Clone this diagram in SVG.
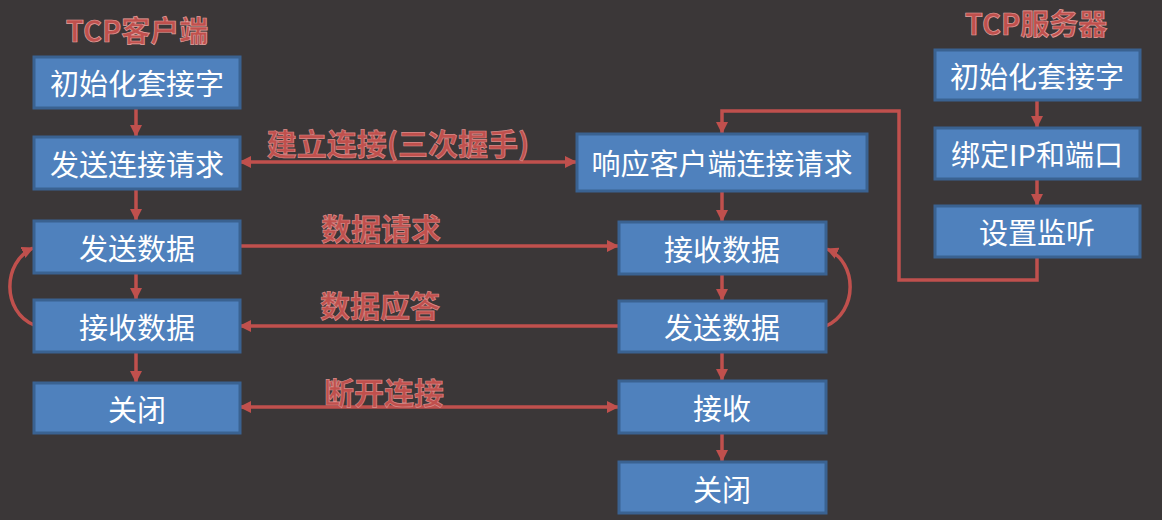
<svg xmlns="http://www.w3.org/2000/svg" width="1162" height="520" viewBox="0 0 1162 520">
<style>
.box{fill:#4f81bd;stroke:#3a6291;stroke-width:3}
.bt{font-family:"Noto Sans CJK SC","Noto Sans",sans-serif;font-size:29px;fill:#ffffff;text-anchor:middle;dominant-baseline:central}
.lbl{font-family:"Noto Sans CJK SC","Noto Sans",sans-serif;font-size:30px;font-weight:bold;fill:#c0504d;stroke:#d98a88;stroke-width:0.7;text-anchor:middle;dominant-baseline:central}
.ttl{font-family:"Noto Sans CJK SC","Noto Sans",sans-serif;font-size:29px;font-weight:bold;fill:#c0504d;stroke:#e0a09e;stroke-width:0.7;text-anchor:middle;dominant-baseline:central}
.ln{fill:none;stroke:#c0504d;stroke-width:3.5}
.a{marker-end:url(#ah)}
.aa{marker-start:url(#ah);marker-end:url(#ah)}
</style>
<defs>
<marker id="ah" markerUnits="userSpaceOnUse" markerWidth="12" markerHeight="12" refX="11" refY="6" orient="auto-start-reverse">
<path d="M0,0 L12,6 L0,12 z" fill="#c0504d"/>
</marker>
</defs>
<rect x="0" y="0" width="1162" height="520" fill="#3b3738"/>

<text class="ttl" x="137" y="29">TCP客户端</text>
<text class="ttl" x="1036" y="22">TCP服务器</text>

<g id="connectors">
<line class="ln a" x1="136" y1="108" x2="136" y2="136"/>
<line class="ln a" x1="136" y1="189" x2="136" y2="220"/>
<line class="ln a" x1="136" y1="273" x2="136" y2="299"/>
<line class="ln a" x1="136" y1="352" x2="136" y2="382"/>
<line class="ln a" x1="722" y1="191" x2="722" y2="221"/>
<line class="ln a" x1="722" y1="274" x2="722" y2="300"/>
<line class="ln a" x1="722" y1="352" x2="722" y2="380"/>
<line class="ln a" x1="722" y1="433" x2="722" y2="461"/>
<line class="ln a" x1="1037" y1="100" x2="1037" y2="127"/>
<line class="ln a" x1="1037" y1="179" x2="1037" y2="205"/>
<path class="ln a" d="M1037 257 L1037 280 L899 280 L899 111 L722 111 L722 133"/>
<line class="ln aa" x1="240" y1="162" x2="576" y2="162"/>
<line class="ln a" x1="240" y1="246" x2="618" y2="246"/>
<line class="ln a" x1="618" y1="326" x2="240" y2="326"/>
<line class="ln aa" x1="240" y1="407" x2="618" y2="407"/>
<path class="ln a" d="M34 325 C2 312, 2 262, 33 248"/>
<path class="ln a" d="M826 326 C858 312, 858 262, 827 249"/>
</g>

<text class="lbl" x="398" y="142">建立连接(三次握手)</text>
<text class="lbl" x="381" y="227">数据请求</text>
<text class="lbl" x="380" y="304">数据应答</text>
<text class="lbl" x="384" y="391">断开连接</text>

<g id="c_init"><rect class="box" x="34" y="57" width="206" height="51"/><text class="bt" x="137" y="82">初始化套接字</text></g>
<g id="c_conn"><rect class="box" x="34" y="137" width="206" height="52"/><text class="bt" x="137" y="163">发送连接请求</text></g>
<g id="c_send"><rect class="box" x="34" y="221" width="206" height="52"/><text class="bt" x="137" y="247">发送数据</text></g>
<g id="c_recv"><rect class="box" x="34" y="300" width="206" height="52"/><text class="bt" x="137" y="326">接收数据</text></g>
<g id="c_close"><rect class="box" x="34" y="383" width="206" height="50"/><text class="bt" x="137" y="408">关闭</text></g>

<g id="s_accept"><rect class="box" x="577" y="134" width="290" height="57"/><text class="bt" x="722" y="162">响应客户端连接请求</text></g>
<g id="s_recv"><rect class="box" x="619" y="222" width="207" height="52"/><text class="bt" x="722" y="248">接收数据</text></g>
<g id="s_send"><rect class="box" x="619" y="301" width="207" height="51"/><text class="bt" x="722" y="326">发送数据</text></g>
<g id="s_recv2"><rect class="box" x="619" y="381" width="207" height="52"/><text class="bt" x="722" y="407">接收</text></g>
<g id="s_close"><rect class="box" x="619" y="462" width="207" height="51"/><text class="bt" x="722" y="488">关闭</text></g>

<g id="s_init"><rect class="box" x="935" y="50" width="205" height="50"/><text class="bt" x="1037" y="75">初始化套接字</text></g>
<g id="s_bind"><rect class="box" x="935" y="128" width="205" height="51"/><text class="bt" x="1037" y="153">绑定IP和端口</text></g>
<g id="s_listen"><rect class="box" x="935" y="206" width="205" height="51"/><text class="bt" x="1037" y="231">设置监听</text></g>
</svg>
